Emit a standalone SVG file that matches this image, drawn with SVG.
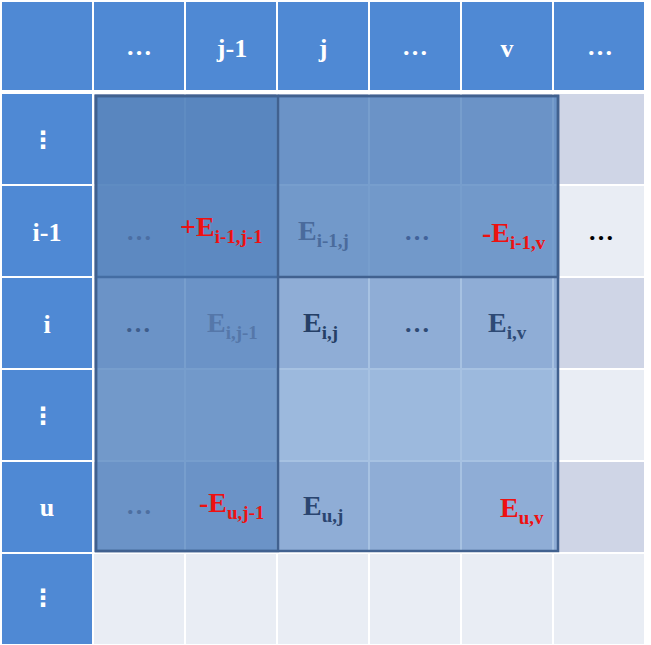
<svg xmlns="http://www.w3.org/2000/svg" width="651" height="645" viewBox="0 0 651 645">
<style>
.hd{fill:#4F89D4}
.dk{fill:#CFD5E6}
.lt{fill:#E9EDF4}
.ov{stroke:#41618F;stroke-width:2.5}
.t{font-family:"Liberation Serif","Times New Roman",serif;font-weight:bold}
.w{fill:#FFFFFF;font-size:26px;text-anchor:middle}
.vd{font-family:"DejaVu Sans",sans-serif;font-weight:bold;fill:#FFFFFF;font-size:24px;text-anchor:middle}
.e{font-size:28px}
.s{font-size:19px}
.el{font-size:26px;text-anchor:middle}
.red{fill:#EE1111}
</style>
<rect width="651" height="645" fill="#FFFFFF"/>
<g id="header">
<rect class="hd" x="2" y="2" width="90" height="88"/>
<rect class="hd" x="94" y="2" width="90" height="88"/>
<rect class="hd" x="186" y="2" width="90" height="88"/>
<rect class="hd" x="278" y="2" width="90" height="88"/>
<rect class="hd" x="370" y="2" width="90" height="88"/>
<rect class="hd" x="462" y="2" width="90" height="88"/>
<rect class="hd" x="554" y="2" width="90" height="88"/>
<text class="t w" x="139" y="55">…</text>
<text class="t w" x="232" y="57">j-1</text>
<text class="t w" x="323" y="57">j</text>
<text class="t w" x="415" y="55">…</text>
<text class="t w" x="507" y="57">v</text>
<text class="t w" x="600" y="55">…</text>
</g>
<g id="rowlabels">
<rect class="hd" x="2" y="94" width="90" height="90"/>
<rect class="hd" x="2" y="186" width="90" height="90"/>
<rect class="hd" x="2" y="278" width="90" height="90"/>
<rect class="hd" x="2" y="370" width="90" height="90"/>
<rect class="hd" x="2" y="462" width="90" height="90"/>
<rect class="hd" x="2" y="554" width="90" height="90"/>
<text class="vd" x="43" y="148">⋮</text>
<text class="t w" x="47" y="241">i-1</text>
<text class="t w" x="47" y="333">i</text>
<text class="vd" x="43" y="424">⋮</text>
<text class="t w" x="47" y="516">u</text>
<text class="vd" x="43" y="606">⋮</text>
</g>
<g id="cells">
<rect class="dk" x="94" y="94" width="550" height="90"/>
<rect class="lt" x="94" y="186" width="550" height="90"/>
<rect class="dk" x="94" y="278" width="550" height="90"/>
<rect class="lt" x="94" y="370" width="550" height="90"/>
<rect class="dk" x="94" y="462" width="550" height="90"/>
<rect class="lt" x="94" y="554" width="550" height="90"/>
<g fill="#FFFFFF">
<rect x="184" y="94" width="2" height="550"/>
<rect x="276" y="94" width="2" height="550"/>
<rect x="368" y="94" width="2" height="550"/>
<rect x="460" y="94" width="2" height="550"/>
<rect x="552" y="94" width="2" height="550"/>
</g>
</g>
<g id="overlays">
<rect id="block-all" x="96" y="96" width="462" height="455" fill="#4F85C6" fill-opacity="0.5" class="ov"/>
<rect id="block-top" x="96" y="96" width="462" height="181" fill="#487AB8" fill-opacity="0.5" class="ov"/>
<rect id="block-left" x="96" y="96" width="182" height="455" fill="#487AB8" fill-opacity="0.5" class="ov"/>
</g>
<g id="labels" class="t">
<text class="el" x="139" y="240" fill="#4B6EA3">…</text>
<text class="e red" x="180" y="236">+E<tspan class="s" dy="7">i-1,j-1</tspan></text>
<text class="e" x="298" y="240" fill="#4A6B9C">E<tspan class="s" dy="7">i-1,j</tspan></text>
<text class="el" x="417" y="240" fill="#41629A">…</text>
<text class="e red" x="482" y="242">-E<tspan class="s" dy="7">i-1,v</tspan></text>
<text class="el" x="601" y="240" fill="#000000">…</text>
<text class="el" x="138" y="332" fill="#3E5D8C">…</text>
<text class="e" x="207" y="332" fill="#5577A9">E<tspan class="s" dy="7">i,j-1</tspan></text>
<text class="e" x="303" y="332" fill="#253F66">E<tspan class="s" dy="7">i,j</tspan></text>
<text class="el" x="417" y="332" fill="#2E4A75">…</text>
<text class="e" x="488" y="332" fill="#2E4A75">E<tspan class="s" dy="7">i,v</tspan></text>
<text class="el" x="139" y="514" fill="#4E6FA0">…</text>
<text class="e red" x="199" y="512">-E<tspan class="s" dy="7">u,j-1</tspan></text>
<text class="e" x="303" y="515" fill="#2A4570">E<tspan class="s" dy="7">u,j</tspan></text>
<text class="e red" x="500" y="517">E<tspan class="s" dy="7">u,v</tspan></text>
</g>
</svg>
